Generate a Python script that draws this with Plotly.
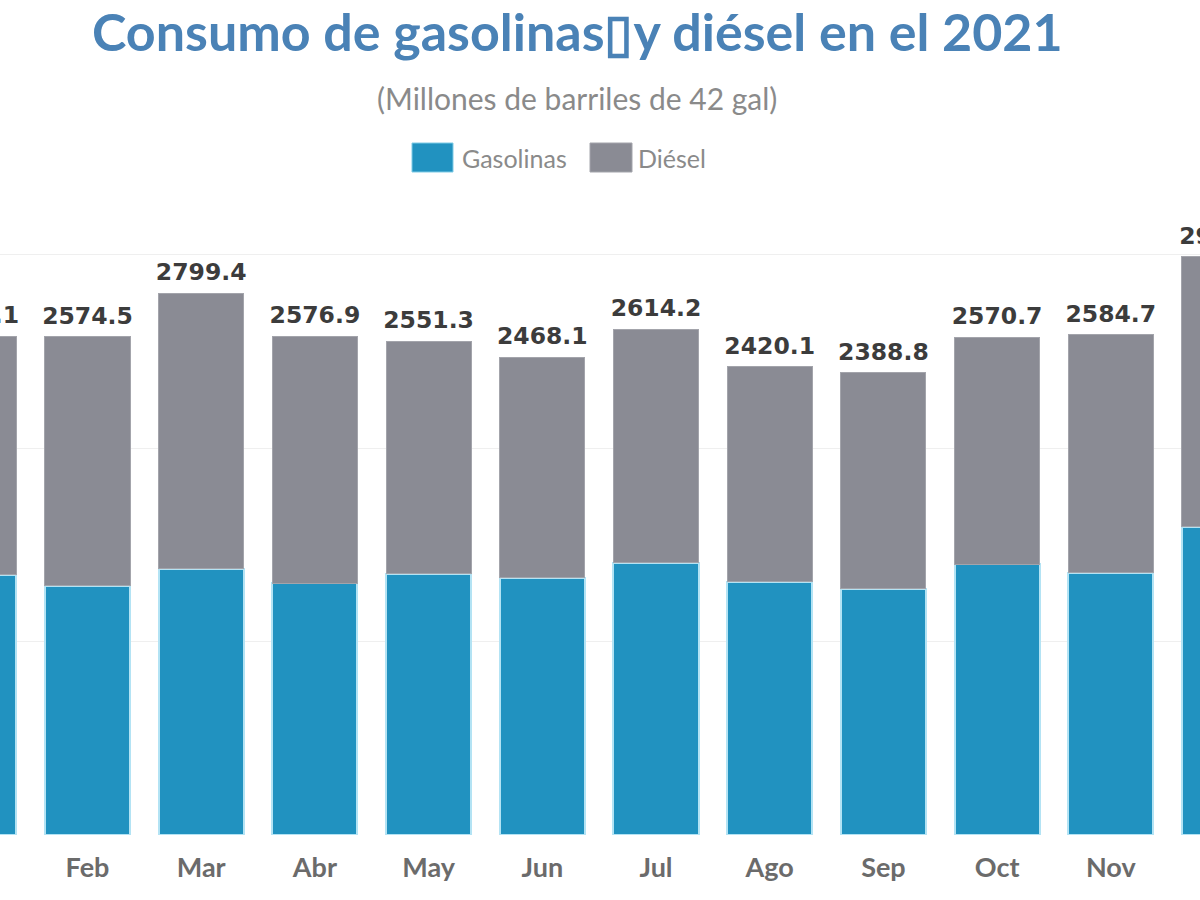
import plotly.graph_objects as go

meses = ["Ene", "Feb", "Mar", "Abr", "May", "Jun", "Jul", "Ago", "Sep", "Oct", "Nov", "Dic"]
gasolinas = [1344.2, 1288.4, 1375.1, 1302.3, 1349.0, 1330.2, 1406.0, 1309.1, 1271.4, 1400.3, 1354.2, 1593.1]
diesel = [1233.9, 1286.1, 1424.3, 1274.6, 1202.3, 1137.9, 1208.2, 1111.0, 1117.4, 1170.4, 1230.5, 1394.2]
totales = [2578.1, 2574.5, 2799.4, 2576.9, 2551.3, 2468.1, 2614.2, 2420.1, 2388.8, 2570.7, 2584.7, 2987.3]

AZUL = "#2192c0"
GRIS = "#8a8b94"

W, H = 1200, 900
M_T, M_B = 200, 65
PLOT_H = H - M_T - M_B
PX_PER_UNIT = 0.1935
Y_TOP = PLOT_H / PX_PER_UNIT


def py(p):
    return (H - M_B - p) / PLOT_H


def px(p):
    return p / W


fig = go.Figure()
fig.add_trace(go.Bar(x=meses, y=gasolinas, name="Gasolinas",
                     marker=dict(color=AZUL, line=dict(color="#b3e3f4", width=2))))
fig.add_trace(go.Bar(x=meses, y=diesel, name="Diésel",
                     marker=dict(color=GRIS, line=dict(color="#a3a4ab", width=1))))
fig.add_trace(go.Scatter(x=meses, y=totales, mode="markers+text",
                         text=[f"{v:.1f}" for v in totales], textposition="top center",
                         marker=dict(size=10, color="rgba(0,0,0,0)"),
                         textfont=dict(family="DejaVu Sans", size=23.5, color="#3c3c3c", weight="bold"),
                         cliponaxis=True, hoverinfo="skip", showlegend=False))

ann = [
    dict(text="Consumo de gasolinas\u25afy diésel en el 2021", x=px(577), y=py(31),
         font=dict(family="Lato", size=52, color="#4a82b6", weight="bold")),
    dict(text="(Millones de barriles de 42 gal)", x=px(577), y=py(98),
         font=dict(family="Lato", size=30, color="#8a8a8a")),
    dict(text="Gasolinas", x=px(460), y=py(158), xanchor="left",
         font=dict(family="Lato", size=25, color="#8a8a8a")),
    dict(text="Diésel", x=px(636), y=py(158), xanchor="left",
         font=dict(family="Lato", size=25, color="#8a8a8a")),
]
for a in ann:
    a.setdefault("xanchor", "center")
    a.update(xref="paper", yref="paper", yanchor="middle", showarrow=False)

shapes = [
    dict(type="rect", xref="paper", yref="paper", x0=px(412), x1=px(453), y0=py(172), y1=py(143),
         fillcolor=AZUL, line=dict(color="#7fcbe6", width=1)),
    dict(type="rect", xref="paper", yref="paper", x0=px(590), x1=px(632), y0=py(172), y1=py(143),
         fillcolor=GRIS, line=dict(color="#a3a4ab", width=1)),
]

fig.update_layout(
    width=W, height=H, barmode="stack", bargap=0.252,
    margin=dict(l=0, r=0, t=M_T, b=M_B),
    plot_bgcolor="white", paper_bgcolor="white",
    showlegend=False, annotations=ann, shapes=shapes,
)
fig.update_xaxes(type="category", range=[0.2304, 10.7845], showgrid=False, zeroline=False,
                 showline=False, ticks="", ticklabelstandoff=14,
                 tickfont=dict(family="Lato", size=27, color="#6b6b6b", weight="bold"))
fig.update_yaxes(range=[0, Y_TOP], tickvals=[1000, 2000, 3000], showticklabels=False,
                 gridcolor="#efefef", gridwidth=1, zeroline=False, showline=False)

fig.write_html("out.html", config={"displayModeBar": False},
               post_script="document.body.style.margin='0';")
